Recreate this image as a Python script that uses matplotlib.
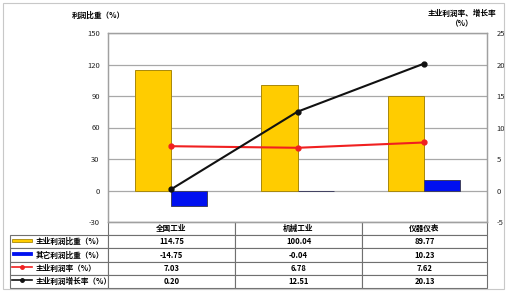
import matplotlib
matplotlib.use("Agg")
import matplotlib.pyplot as plt
from matplotlib.lines import Line2D
from matplotlib.patches import Rectangle

plt.rcParams['font.family'] = ['Noto Sans CJK SC', 'DejaVu Sans']
plt.rcParams['axes.unicode_minus'] = False

categories = ['全国工业', '机械工业', '仪器仪表']
main_share = [114.75, 100.04, 89.77]
other_share = [-14.75, -0.04, 10.23]
main_margin = [7.03, 6.78, 7.62]
main_growth = [0.20, 12.51, 20.13]
series_labels = ['主业利润比重（%）', '其它利润比重（%）', '主业利润率（%）', '主业利润增长率（%）']
left_ticks = [-30, 0, 30, 60, 90, 120, 150]
right_ticks = [-5, 0, 5, 10, 15, 20, 25]

fig = plt.figure(figsize=(5.08, 2.92), dpi=100)
W, H = 508, 292
ax = fig.add_axes([108 / W, 1 - 222 / H, 379 / W, 189 / H])

x = list(range(len(categories)))
bw = 0.285
ax.bar(x, main_share, width=-bw, align='edge', color='#FFCC00', edgecolor='#A8880A', linewidth=0.7, zorder=3)
ax.bar(x, other_share, width=bw, align='edge', color='#0010F0', edgecolor='#404060', linewidth=0.7, zorder=3)
ax.set_xlim(-0.5, 2.5)
ax.set_ylim(-30, 150)
ax.set_yticks(left_ticks)
ax.set_xticks([])
ax.grid(axis='y', color='#A8A8A8', linewidth=0.9, zorder=0)
ax.tick_params(axis='y', length=0, labelsize=5.5, pad=6, colors='#222222')
for s in ax.spines.values():
    s.set_color('#A0A0A0')
    s.set_linewidth(0.9)

ax2 = ax.twinx()
ax2.plot(x, main_margin, color='#F02020', linewidth=1.5, marker='o', markersize=3.5, zorder=4)
ax2.plot(x, main_growth, color='#111111', linewidth=1.5, marker='o', markersize=3.5, zorder=5)
ax2.set_ylim(-5, 25)
ax2.set_yticks(right_ticks)
ax2.tick_params(axis='y', length=0, labelsize=5.5, pad=7, colors='#222222')
for s in ax2.spines.values():
    s.set_color('#A0A0A0')
    s.set_linewidth(0.9)

cell_text = []
for i in range(len(series_labels)):
    vals = [main_share, other_share, main_margin, main_growth][i]
    cell_text.append([series_labels[i]] + ['%.2f' % v for v in vals])

tbl = ax.table(cellText=cell_text, colLabels=[''] + categories,
               cellLoc='center', colWidths=[98, 127, 127, 125],
               bbox=[(10 - 108) / 379, -66 / 189, (487 - 10) / 379, 66 / 189])
tbl.auto_set_font_size(False)
tbl.set_fontsize(5.5)
for (r, c), cell in tbl.get_celld().items():
    cell.set_edgecolor('#707070')
    cell.set_linewidth(0.8)
    if c == 0:
        cell.get_text().set_ha('left')
        cell.PAD = 0.26
    if r == 0 and c == 0:
        cell.visible_edges = ''
    cell.get_text().set_fontweight('bold')

# legend keys in the label column (figure pixel coords)
row_y = [240.5, 253.5, 266.5, 279.5]
fx = lambda px: px / W
fy = lambda py: 1 - py / H
fig.add_artist(Rectangle((fx(12), fy(row_y[0] + 1.8)), 20 / W, 3.6 / H, facecolor='#FFCC00', edgecolor='#A8880A', linewidth=0.6, transform=fig.transFigure))
fig.add_artist(Rectangle((fx(12), fy(row_y[1] + 1.8)), 20 / W, 3.6 / H, facecolor='#0010F0', edgecolor='#0010F0', linewidth=0.6, transform=fig.transFigure))
fig.add_artist(Line2D([fx(12), fx(32)], [fy(row_y[2])] * 2, color='#F02020', linewidth=1.2, transform=fig.transFigure))
fig.add_artist(Line2D([fx(22)], [fy(row_y[2])], color='#F02020', marker='o', markersize=2.5, transform=fig.transFigure))
fig.add_artist(Line2D([fx(12), fx(32)], [fy(row_y[3])] * 2, color='#111111', linewidth=1.2, transform=fig.transFigure))
fig.add_artist(Line2D([fx(22)], [fy(row_y[3])], color='#111111', marker='o', markersize=2.5, transform=fig.transFigure))

fig.text(fx(98), fy(15), '利润比重（%）', ha='center', va='center', fontsize=5.5, fontweight='bold')
fig.text(fx(462), fy(13), '主业利润率、增长率', ha='center', va='center', fontsize=5.5, fontweight='bold')
fig.text(fx(462), fy(24), '（%）', ha='center', va='center', fontsize=5.5, fontweight='bold')

fig.add_artist(Rectangle((fx(3), fy(289)), 501 / W, 286 / H, fill=False, edgecolor='#C8C8C8', linewidth=0.8, transform=fig.transFigure))

fig.savefig('out.png', dpi=100)
